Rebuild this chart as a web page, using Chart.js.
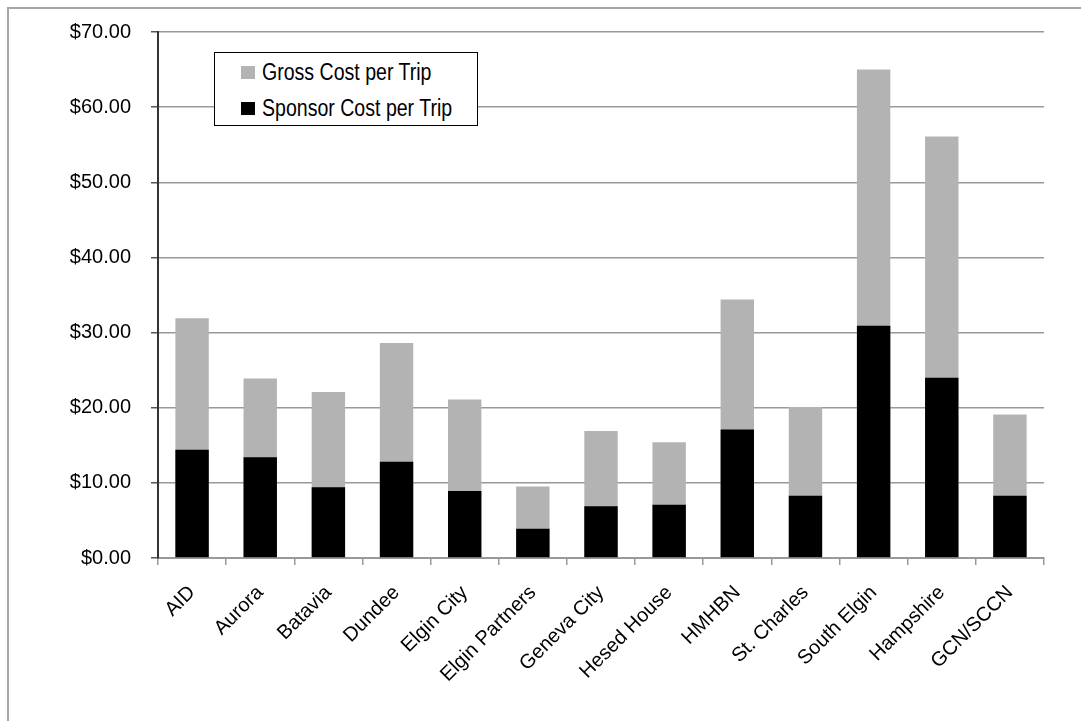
<!DOCTYPE html>
<html>
<head>
<meta charset="utf-8">
<script src="https://cdn.jsdelivr.net/npm/chart.js@4.4.1/dist/chart.umd.min.js"></script>
<style>
  html, body { margin: 0; padding: 0; background: #fff; }
  #wrap { position: relative; width: 1081px; height: 721px; overflow: hidden; }
  #frame { position: absolute; left: 7px; top: 7px; width: 1200px; height: 800px;
           border-left: 2px solid #a6a6a6; border-top: 2px solid #a6a6a6; box-sizing: border-box; }
  canvas { position: absolute; left: 0; top: 0; }
  #legend { position: absolute; left: 214px; top: 52px; width: 264px; height: 74px;
            border: 1.5px solid #000; background: #fff; box-sizing: border-box;
            font-family: 'Liberation Sans', Arial, sans-serif; font-size: 23px; color: #000; }
  .item { position: absolute; left: 26px; height: 28px; line-height: 28px; white-space: nowrap; }
  .sw { position: absolute; left: 0; top: 8px; width: 14px; height: 13px; }
  .txt { position: absolute; left: 21px; top: 0; transform: scaleX(0.85); transform-origin: left center; }
</style>
</head>
<body>
<div id="wrap">
  <div id="frame"></div>
  <canvas id="c" width="1081" height="721"></canvas>
  <div id="legend"></div>
</div>
<script>
const categories = ["AID", "Aurora", "Batavia", "Dundee", "Elgin City", "Elgin Partners",
  "Geneva City", "Hesed House", "HMHBN", "St. Charles", "South Elgin", "Hampshire", "GCN/SCCN"];
const grossCost = [31.9, 23.9, 22.1, 28.6, 21.1, 9.5, 16.9, 15.4, 34.4, 20.1, 65.0, 56.1, 19.1];
const sponsorCost = [14.4, 13.4, 9.4, 12.8, 8.9, 3.9, 6.9, 7.1, 17.1, 8.3, 30.9, 24.0, 8.3];
const seriesNames = ["Gross Cost per Trip", "Sponsor Cost per Trip"];
const seriesColors = ["#b3b3b3", "#000000"];
const yMin = 0, yMax = 70, yStep = 10;

const FONT = { family: "'Liberation Sans', Arial, sans-serif", size: 20 };

const chart = new Chart(document.getElementById('c'), {
  type: 'bar',
  data: {
    labels: categories,
    datasets: [
      { label: seriesNames[0], data: grossCost, backgroundColor: seriesColors[0],
        grouped: false, order: 2, barPercentage: 0.49, categoryPercentage: 1.0 },
      { label: seriesNames[1], data: sponsorCost, backgroundColor: seriesColors[1],
        grouped: false, order: 1, barPercentage: 0.49, categoryPercentage: 1.0 }
    ]
  },
  options: {
    responsive: false,
    animation: false,
    layout: { padding: { left: 0, right: 37, top: 31, bottom: 0 } },
    plugins: { legend: { display: false }, tooltip: { enabled: false } },
    scales: {
      x: {
        offset: true,
        grid: { display: true, offset: true, drawOnChartArea: false, drawTicks: true,
                tickLength: 7, color: '#999', lineWidth: 1.5 },
        border: { display: true, color: '#999', width: 2 },
        ticks: { color: '#000', font: FONT, minRotation: 45, maxRotation: 45,
                 autoSkip: false, padding: 16 },
        afterFit: s => { s.height = 163; }
      },
      y: {
        min: yMin, max: yMax,
        grid: { color: '#999', lineWidth: 1.5, drawTicks: true, tickLength: 7, tickColor: '#555' },
        border: { display: true, color: '#333', width: 2 },
        ticks: { stepSize: yStep, color: '#000', font: FONT, padding: 20,
                 callback: v => '$' + Number(v).toFixed(2) },
        afterFit: s => { s.width = 158; }
      }
    }
  }
});

// legend (real text), built from the series arrays
const lg = document.getElementById('legend');
seriesNames.forEach((name, i) => {
  const d = document.createElement('div');
  d.className = 'item';
  d.style.top = (5 + i * 36) + 'px';
  const sw = document.createElement('span');
  sw.className = 'sw';
  sw.style.background = seriesColors[i];
  const t = document.createElement('span');
  t.className = 'txt';
  t.textContent = name;
  d.appendChild(sw);
  d.appendChild(t);
  lg.appendChild(d);
});
</script>
</body>
</html>
